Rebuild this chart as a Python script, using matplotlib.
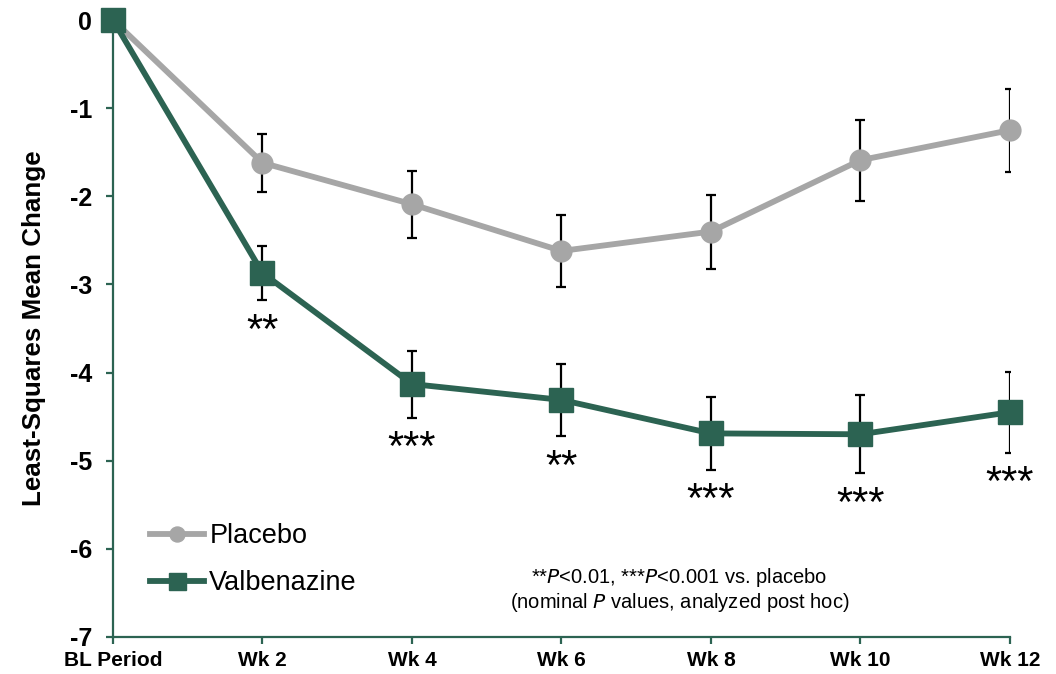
import matplotlib
matplotlib.use("Agg")
import matplotlib.pyplot as plt

categories = ["BL Period", "Wk 2", "Wk 4", "Wk 6", "Wk 8", "Wk 10", "Wk 12"]
placebo = [0, -1.62, -2.09, -2.62, -2.40, -1.59, -1.25]
placebo_err = [0, 0.33, 0.38, 0.41, 0.42, 0.46, 0.47]
valbenazine = [0, -2.87, -4.13, -4.31, -4.69, -4.70, -4.45]
valbenazine_err = [0, 0.31, 0.38, 0.41, 0.41, 0.44, 0.46]
stars = ["", "**", "***", "**", "***", "***", "***"]

GREEN = "#2C6352"
GREY = "#A6A6A6"

plt.rcParams['font.family'] = ['Liberation Sans', 'DejaVu Sans']

fig = plt.figure(figsize=(10.56, 6.74), dpi=100)
ax = fig.add_axes([0.107, 0.0549, 0.8494, 0.9154])

x = list(range(len(categories)))

ax.errorbar(x[1:], placebo[1:], yerr=placebo_err[1:], fmt='none', ecolor='black',
            elinewidth=1.6, capsize=3.5, capthick=1.6, zorder=2)
ax.errorbar(x[1:], valbenazine[1:], yerr=valbenazine_err[1:], fmt='none', ecolor='black',
            elinewidth=1.6, capsize=3.5, capthick=1.6, zorder=2)
ax.plot(x, placebo, color=GREY, lw=4.2, marker='o', ms=15, label='Placebo', zorder=3, clip_on=False)
ax.plot(x, valbenazine, color=GREEN, lw=4.2, marker='s', ms=17, label='Valbenazine', zorder=4, clip_on=False)

for xi, v, e, s in zip(x, valbenazine, valbenazine_err, stars):
    if s:
        ax.text(xi, v - e - 0.13, s, ha='center', va='top', fontsize=30, color='black')

ax.set_xlim(0, 6)
ax.set_ylim(-7, 0)
ax.set_xticks(x)
ax.set_xticklabels(categories, fontsize=15, fontweight='bold')
ax.set_yticks(range(-7, 1))
ax.set_yticklabels([str(v) for v in range(-7, 1)], fontsize=18, fontweight='bold')
ax.set_ylabel("Least-Squares Mean Change", fontsize=18.7, fontweight='bold', labelpad=17)

for side in ['top', 'right']:
    ax.spines[side].set_visible(False)
for side in ['left', 'bottom']:
    ax.spines[side].set_color(GREEN)
    ax.spines[side].set_linewidth(1.6)
ax.tick_params(axis='both', direction='out', color=GREEN, width=1.6, length=5)
ax.tick_params(axis='x', pad=5)
ax.tick_params(axis='y', pad=10)

leg = ax.legend(loc='upper left', bbox_to_anchor=(0.041, 0.184), frameon=False, fontsize=19.5,
                handlelength=2.0, handletextpad=0.2, labelspacing=0.76, markerscale=0.72,
                borderpad=0, borderaxespad=0)

ax.text(3.79, -6.32, r"**$\it{P}$<0.01, ***$\it{P}$<0.001 vs. placebo", ha='center', va='center', fontsize=14.5)
ax.text(3.79, -6.61, r"(nominal $\it{P}$ values, analyzed post hoc)", ha='center', va='center', fontsize=14.5)

fig.savefig("out.png", dpi=100)
